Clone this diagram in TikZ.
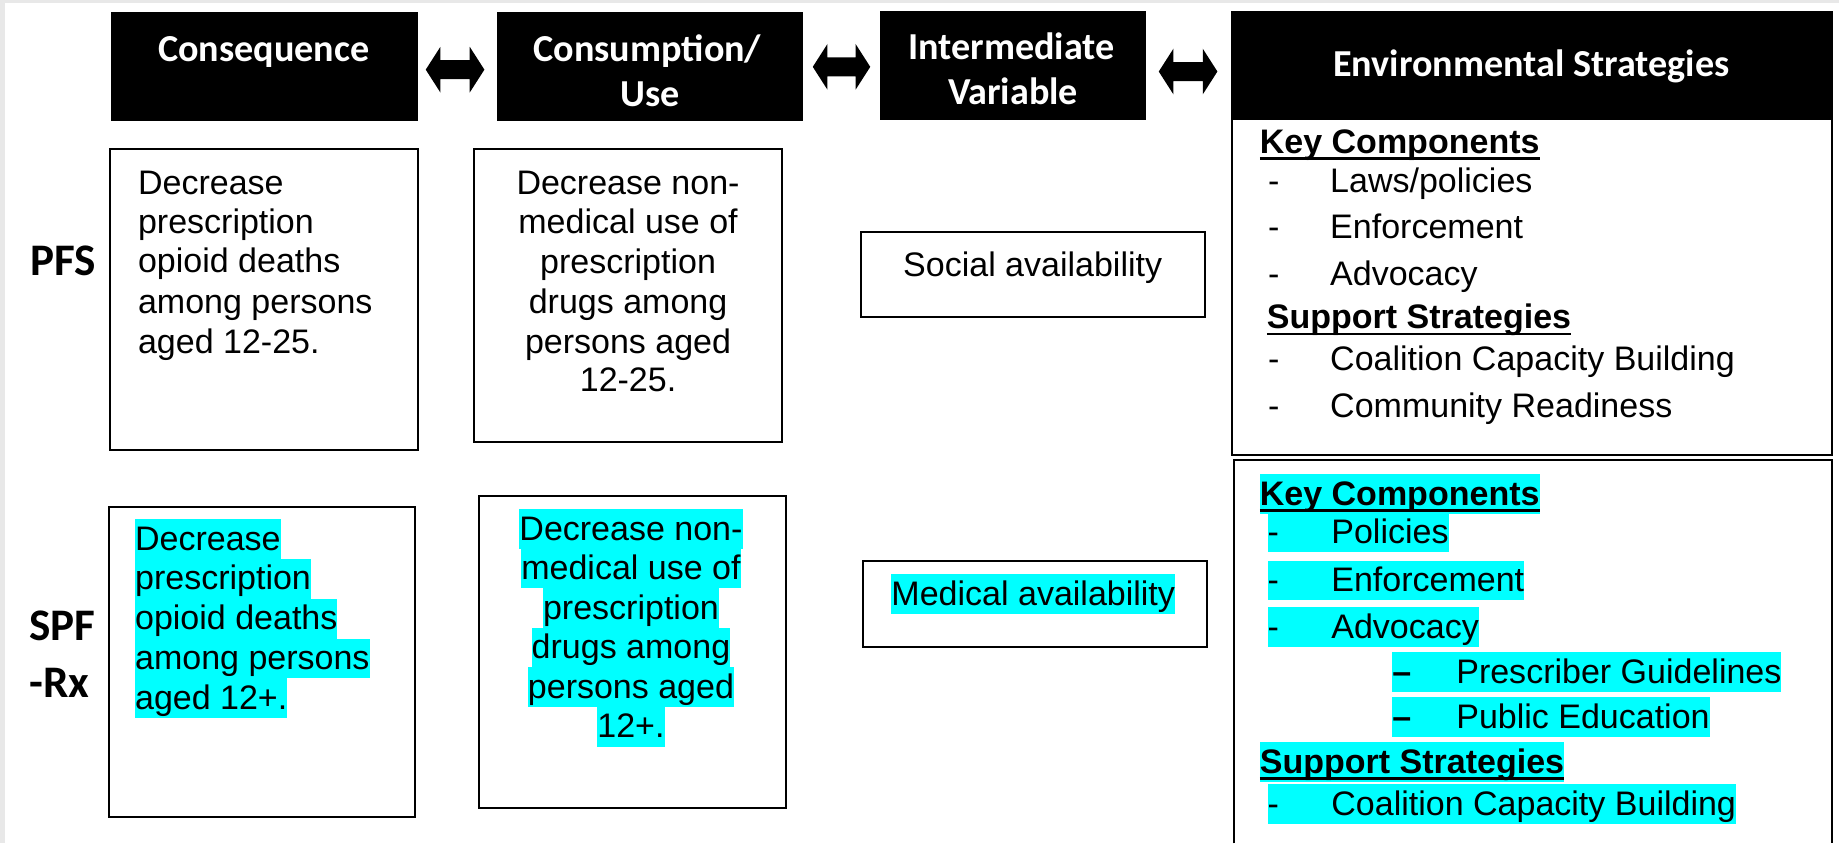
\documentclass[tikz,border=0pt]{standalone}
\usepackage{fontspec}
\setmainfont{Liberation Sans}
\newfontfamily\calfont{Carlito}
\definecolor{hlcyan}{RGB}{0,255,255}
\definecolor{edgegray}{RGB}{232,232,232}
\newsavebox\ulsavebox
\newcommand{\ulbar}[1]{\sbox\ulsavebox{#1}\rlap{\rule[-5.5pt]{\wd\ulsavebox}{2.4pt}}\usebox\ulsavebox}
\newcommand{\blockdbl}[3]{%
  \fill (#1,#3) -- ({#1+12.5},{#3-19.5}) -- ({#1+12.5},{#3-8.1}) -- ({#2-12.5},{#3-8.1}) -- ({#2-12.5},{#3-19.5}) -- (#2,#3)
  -- ({#2-12.5},{#3+19.5}) -- ({#2-12.5},{#3+8.1}) -- ({#1+12.5},{#3+8.1}) -- ({#1+12.5},{#3+19.5}) -- cycle;}
\tikzset{
  hdr/.style={fill=black, draw=none, inner sep=0},
  htxt/.style={font=\calfont\bfseries\fontsize{32.5}{39}\selectfont, text=white, inner sep=0, anchor=base},
  tbox/.style={draw=black, line width=1.7pt, fill=white, inner sep=0},
  btxt/.style={font=\fontsize{29}{34}\selectfont, inner sep=0, text height=26.5pt, text depth=7.5pt},
  bbold/.style={btxt, font=\bfseries\fontsize{29}{34}\selectfont},
  hl/.style={fill=hlcyan},
  lbl/.style={font=\calfont\bfseries\fontsize{38.5}{44}\selectfont, inner sep=0, anchor=base west}
}
\begin{document}
\begin{tikzpicture}[x=1pt,y=-1pt]
\useasboundingbox (0,0) rectangle (1568,719);
\fill[edgegray] (0,0) rectangle (1568,2.5);
\fill[edgegray] (0,0) rectangle (4,719);

% header boxes
\node[hdr, minimum width=262, minimum height=93] (h1) at (225.5,57) {};
\node[hdr, minimum width=260.7, minimum height=93] (h2) at (554.2,56.5) {};
\node[hdr, minimum width=226.2, minimum height=93] (h3) at (863.6,55.5) {};
\node[tbox, minimum width=511.3, minimum height=378] (e1) at (1306.3,199) {};
\node[hdr, minimum width=511.3, minimum height=92] (h4) at (1306.3,56) {};

\node[htxt] (t1) at (225,52.6) {Consequence};
\node[htxt] (t2a) at (552,52.6) {Consumption/};
\node[htxt] (t2b) at (554,90.4) {Use};
\node[htxt] (t3a) at (862.4,50.6) {Intermediate};
\node[htxt] (t3b) at (863.8,89.5) {Variable};
\node[htxt] (t4) at (1305.6,65.4) {Environmental Strategies};

% double arrows
\blockdbl{363}{413}{59.4}
\blockdbl{693}{742}{57}
\blockdbl{988}{1038}{61}

% row labels
\node[lbl] (pfs) at (26,235.3) {PFS};
\node[lbl] (spf) at (25,545.7) {SPF};
\node[lbl] (rx) at (25,595) {-Rx};

% PFS row boxes
\node[tbox, minimum width=262, minimum height=257] (c1) at (225,255.5) {};
\node[tbox, minimum width=263, minimum height=250] (u1) at (535.5,252) {};
\node[tbox, minimum width=293, minimum height=72] (i1) at (880.5,234) {};

\node[btxt, anchor=base west] (c1a) at (117.5,165.5) {Decrease};
\node[btxt, anchor=base west] (c1b) at (117.5,199) {prescription};
\node[btxt, anchor=base west] (c1c) at (117.5,232.6) {opioid deaths};
\node[btxt, anchor=base west] (c1d) at (117.5,267) {among persons};
\node[btxt, anchor=base west] (c1e) at (117.5,301) {aged 12-25.};

\node[btxt, anchor=base] (u1a) at (535.5,165.5) {Decrease non-};
\node[btxt, anchor=base] (u1b) at (535.5,199) {medical use of};
\node[btxt, anchor=base] (u1c) at (535.5,233) {prescription};
\node[btxt, anchor=base] (u1d) at (535.5,267) {drugs among};
\node[btxt, anchor=base] (u1e) at (535.5,301) {persons aged};
\node[btxt, anchor=base] (u1f) at (535.5,334) {12-25.};

\node[btxt, anchor=base] (i1t) at (880.5,236) {Social availability};

\node[bbold, anchor=base west] (k1) at (1074,130.5) {\ulbar{Key Components}};
\node[btxt, anchor=base west] (k1a) at (1081,164) {\makebox[53pt][l]{-}Laws/policies};
\node[btxt, anchor=base west] (k1b) at (1081,203.5) {\makebox[53pt][l]{-}Enforcement};
\node[btxt, anchor=base west] (k1c) at (1081,243.5) {\makebox[53pt][l]{-}Advocacy};
\node[bbold, anchor=base west] (s1) at (1080,280.5) {\ulbar{Support Strategies}};
\node[btxt, anchor=base west] (s1a) at (1081,316) {\makebox[53pt][l]{-}Coalition Capacity Building};
\node[btxt, anchor=base west] (s1b) at (1081,356) {\makebox[53pt][l]{-}Community Readiness};

% SPF-Rx row boxes
\node[tbox, minimum width=261.4, minimum height=265] (c2) at (223.3,564.5) {};
\node[tbox, minimum width=262, minimum height=266] (u2) at (539,556) {};
\node[tbox, minimum width=293, minimum height=74] (i2) at (882.5,515) {};
\draw[line width=1.7pt] (1052,719) |- (1562,392) -- (1562,719);

\node[btxt, hl, anchor=base west] (c2a) at (115,469) {Decrease};
\node[btxt, hl, anchor=base west] (c2b) at (115,503) {prescription};
\node[btxt, hl, anchor=base west] (c2c) at (115,537) {opioid deaths};
\node[btxt, hl, anchor=base west] (c2d) at (115,571) {among persons};
\node[btxt, hl, anchor=base west] (c2e) at (115,605) {aged 12+.};

\node[btxt, hl, anchor=base] (u2a) at (538,460.5) {Decrease non-};
\node[btxt, hl, anchor=base] (u2b) at (538,494.2) {medical use of};
\node[btxt, hl, anchor=base] (u2c) at (538,527.9) {prescription};
\node[btxt, hl, anchor=base] (u2d) at (538,561.6) {drugs among};
\node[btxt, hl, anchor=base] (u2e) at (538,595.3) {persons aged};
\node[btxt, hl, anchor=base] (u2f) at (538,629) {12+.};

\node[btxt, hl, anchor=base] (i2t) at (881,516) {Medical availability};

\node[bbold, hl, anchor=base west] (k2) at (1074,431) {\ulbar{Key Components}};
\node[btxt, hl, anchor=base west] (k2a) at (1080.6,463) {\makebox[54.4pt][l]{-}Policies};
\node[btxt, hl, anchor=base west] (k2b) at (1080.6,504.5) {\makebox[54.4pt][l]{-}Enforcement};
\node[btxt, hl, anchor=base west] (k2c) at (1080.6,544) {\makebox[54.4pt][l]{-}Advocacy};
\node[btxt, hl, anchor=base west] (k2d) at (1187,582.6) {\makebox[54.5pt][l]{\bfseries –}Prescriber Guidelines};
\node[btxt, hl, anchor=base west] (k2e) at (1187,621) {\makebox[54.5pt][l]{\bfseries –}Public Education};
\node[bbold, hl, anchor=base west] (s2) at (1074,659.5) {\ulbar{Support Strategies}};
\node[btxt, hl, anchor=base west] (s2a) at (1080.6,695) {\makebox[54.4pt][l]{-}Coalition Capacity Building};
\end{tikzpicture}
\end{document}
